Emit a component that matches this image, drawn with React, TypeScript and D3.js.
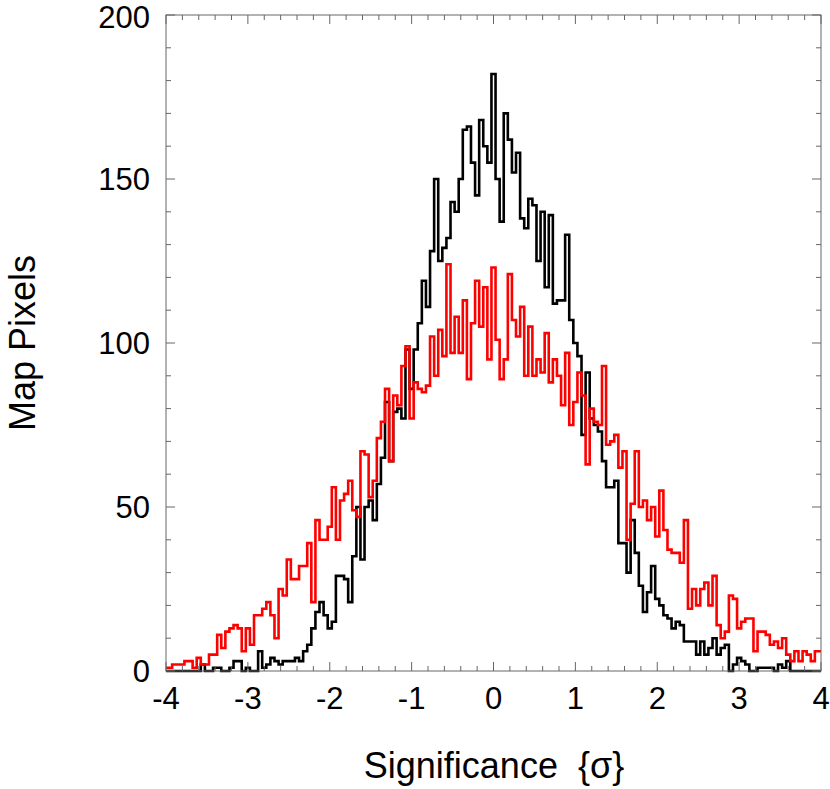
import * as d3 from "d3";

// histogram bins are centred on multiples of 0.05 from -4 to 4
const binCenters = d3.range(161).map((k) => -4 + 0.05 * k);

// black histogram (upper, narrower)
const blackCounts = [
  0, 0, 0, 0, 0, 0, 0, 0, 0, 2,
  0, 0, 1, 1, 0, 0, 1, 3, 3, 0,
  1, 0, 0, 6, 1, 2, 4, 3, 2, 3,
  3, 3, 4, 3, 6, 8, 13, 18, 21, 17,
  13, 15, 29, 29, 28, 21, 35, 50, 34, 50,
  52, 46, 57, 65, 82, 64, 79, 80, 77, 98,
  86, 98, 106, 119, 111, 128, 150, 125, 129, 132,
  143, 140, 150, 165, 166, 155, 145, 168, 160, 155,
  182, 150, 137, 170, 162, 152, 158, 138, 135, 144,
  142, 125, 140, 117, 139, 112, 113, 113, 133, 107,
  100, 96, 72, 91, 77, 75, 73, 64, 56, 56,
  58, 39, 39, 30, 46, 36, 26, 18, 24, 32,
  22, 20, 17, 16, 13, 15, 14, 9, 9, 9,
  5, 9, 5, 7, 10, 5, 7, 8, 0, 2,
  4, 3, 2, 0, 0, 1, 1, 1, 1, 0,
  2, 1, 3, 0, 0, 0, 0, 0, 0, 0,
  0,
];

// red histogram (broader)
const redCounts = [
  1, 1, 2, 2, 2, 3, 3, 1, 4, 2,
  2, 5, 5, 11, 7, 12, 13, 14, 13, 6,
  13, 8, 17, 17, 19, 21, 17, 10, 25, 23,
  34, 28, 28, 32, 32, 39, 21, 46, 40, 40,
  44, 56, 40, 52, 54, 58, 49, 47, 67, 66,
  53, 58, 71, 76, 86, 64, 84, 81, 93, 99,
  77, 88, 86, 85, 87, 102, 90, 104, 96, 124,
  97, 108, 97, 113, 89, 106, 119, 105, 117, 95,
  123, 101, 89, 95, 121, 107, 102, 111, 90, 105,
  90, 95, 91, 103, 88, 95, 90, 81, 97, 75,
  82, 91, 84, 63, 80, 76, 75, 93, 69, 70,
  72, 62, 67, 40, 51, 67, 50, 52, 46, 50,
  41, 55, 43, 37, 36, 36, 33, 46, 19, 25,
  20, 25, 27, 20, 29, 14, 10, 12, 23, 22,
  13, 15, 16, 16, 6, 12, 12, 11, 8, 9,
  7, 10, 5, 3, 6, 3, 6, 5, 3, 6,
  6,
];

const xTicks = [-4, -3, -2, -1, 0, 1, 2, 3, 4];
const yTicks = [0, 50, 100, 150, 200];

const width = 830;
const height = 789;
const plot = { left: 166, right: 821, top: 15, bottom: 671 };
const axisColor = "#666";
const font = "'Liberation Sans', Arial, Helvetica, sans-serif";

function stepPoints(counts: number[]): [number, number][] {
  const pts: [number, number][] = [];
  counts.forEach((v, k) => {
    const c = binCenters[k];
    const lo = Math.max(-4, c - 0.025);
    const hi = Math.min(4, c + 0.025);
    pts.push([lo, v], [hi, v]);
  });
  return pts;
}

export default function App() {
  const x = d3.scaleLinear().domain([-4, 4]).range([plot.left, plot.right]);
  const y = d3.scaleLinear().domain([0, 200]).range([plot.bottom, plot.top]);

  const line = d3
    .line<[number, number]>()
    .x((d) => x(d[0]))
    .y((d) => y(d[1]));

  const xMinor = d3.range(-4, 4.001, 0.2).map((v) => Math.round(v * 10) / 10);
  const yMinor = d3.range(0, 201, 10);

  return (
    <svg
      width={width}
      height={height}
      style={{ position: "absolute", left: 0, top: 0, background: "#fff" }}
      fontFamily={font}
    >
      <path d={line(stepPoints(blackCounts)) || ""} fill="none" stroke="#000" strokeWidth={2.6} />
      <path d={line(stepPoints(redCounts)) || ""} fill="none" stroke="#ff0000" strokeWidth={2.6} />

      <rect
        x={plot.left}
        y={plot.top}
        width={plot.right - plot.left}
        height={plot.bottom - plot.top}
        fill="none"
        stroke={axisColor}
        strokeWidth={1}
      />

      {/* x ticks, bottom and top, pointing inward */}
      {xMinor.map((v) => {
        const len = Number.isInteger(v) ? 9 : 5;
        return (
          <g key={`xt${v}`} stroke={axisColor} strokeWidth={1}>
            <line x1={x(v)} x2={x(v)} y1={plot.bottom} y2={plot.bottom - len} />
            <line x1={x(v)} x2={x(v)} y1={plot.top} y2={plot.top + len} />
          </g>
        );
      })}
      {yMinor.map((v) => {
        const len = v % 50 === 0 ? 9 : 5;
        return (
          <g key={`yt${v}`} stroke={axisColor} strokeWidth={1}>
            <line x1={plot.left} x2={plot.left + len} y1={y(v)} y2={y(v)} />
            <line x1={plot.right} x2={plot.right - len} y1={y(v)} y2={y(v)} />
          </g>
        );
      })}

      {xTicks.map((v) => (
        <text key={`xl${v}`} x={x(v)} y={709} fontSize={31} textAnchor="middle" fill="#000">
          {v}
        </text>
      ))}
      {yTicks.map((v) => (
        <text
          key={`yl${v}`}
          x={150}
          y={Math.max(y(v), 17)}
          dy="0.36em"
          fontSize={31}
          textAnchor="end"
          fill="#000"
        >
          {v}
        </text>
      ))}

      <text
        x={494}
        y={778}
        fontSize={36}
        textAnchor="middle"
        fill="#000"
        style={{ whiteSpace: "pre" }}
      >
        {"Significance  {σ}"}
      </text>
      <text
        transform="translate(35,343) rotate(-90)"
        fontSize={36}
        textAnchor="middle"
        fill="#000"
      >
        Map Pixels
      </text>
    </svg>
  );
}
